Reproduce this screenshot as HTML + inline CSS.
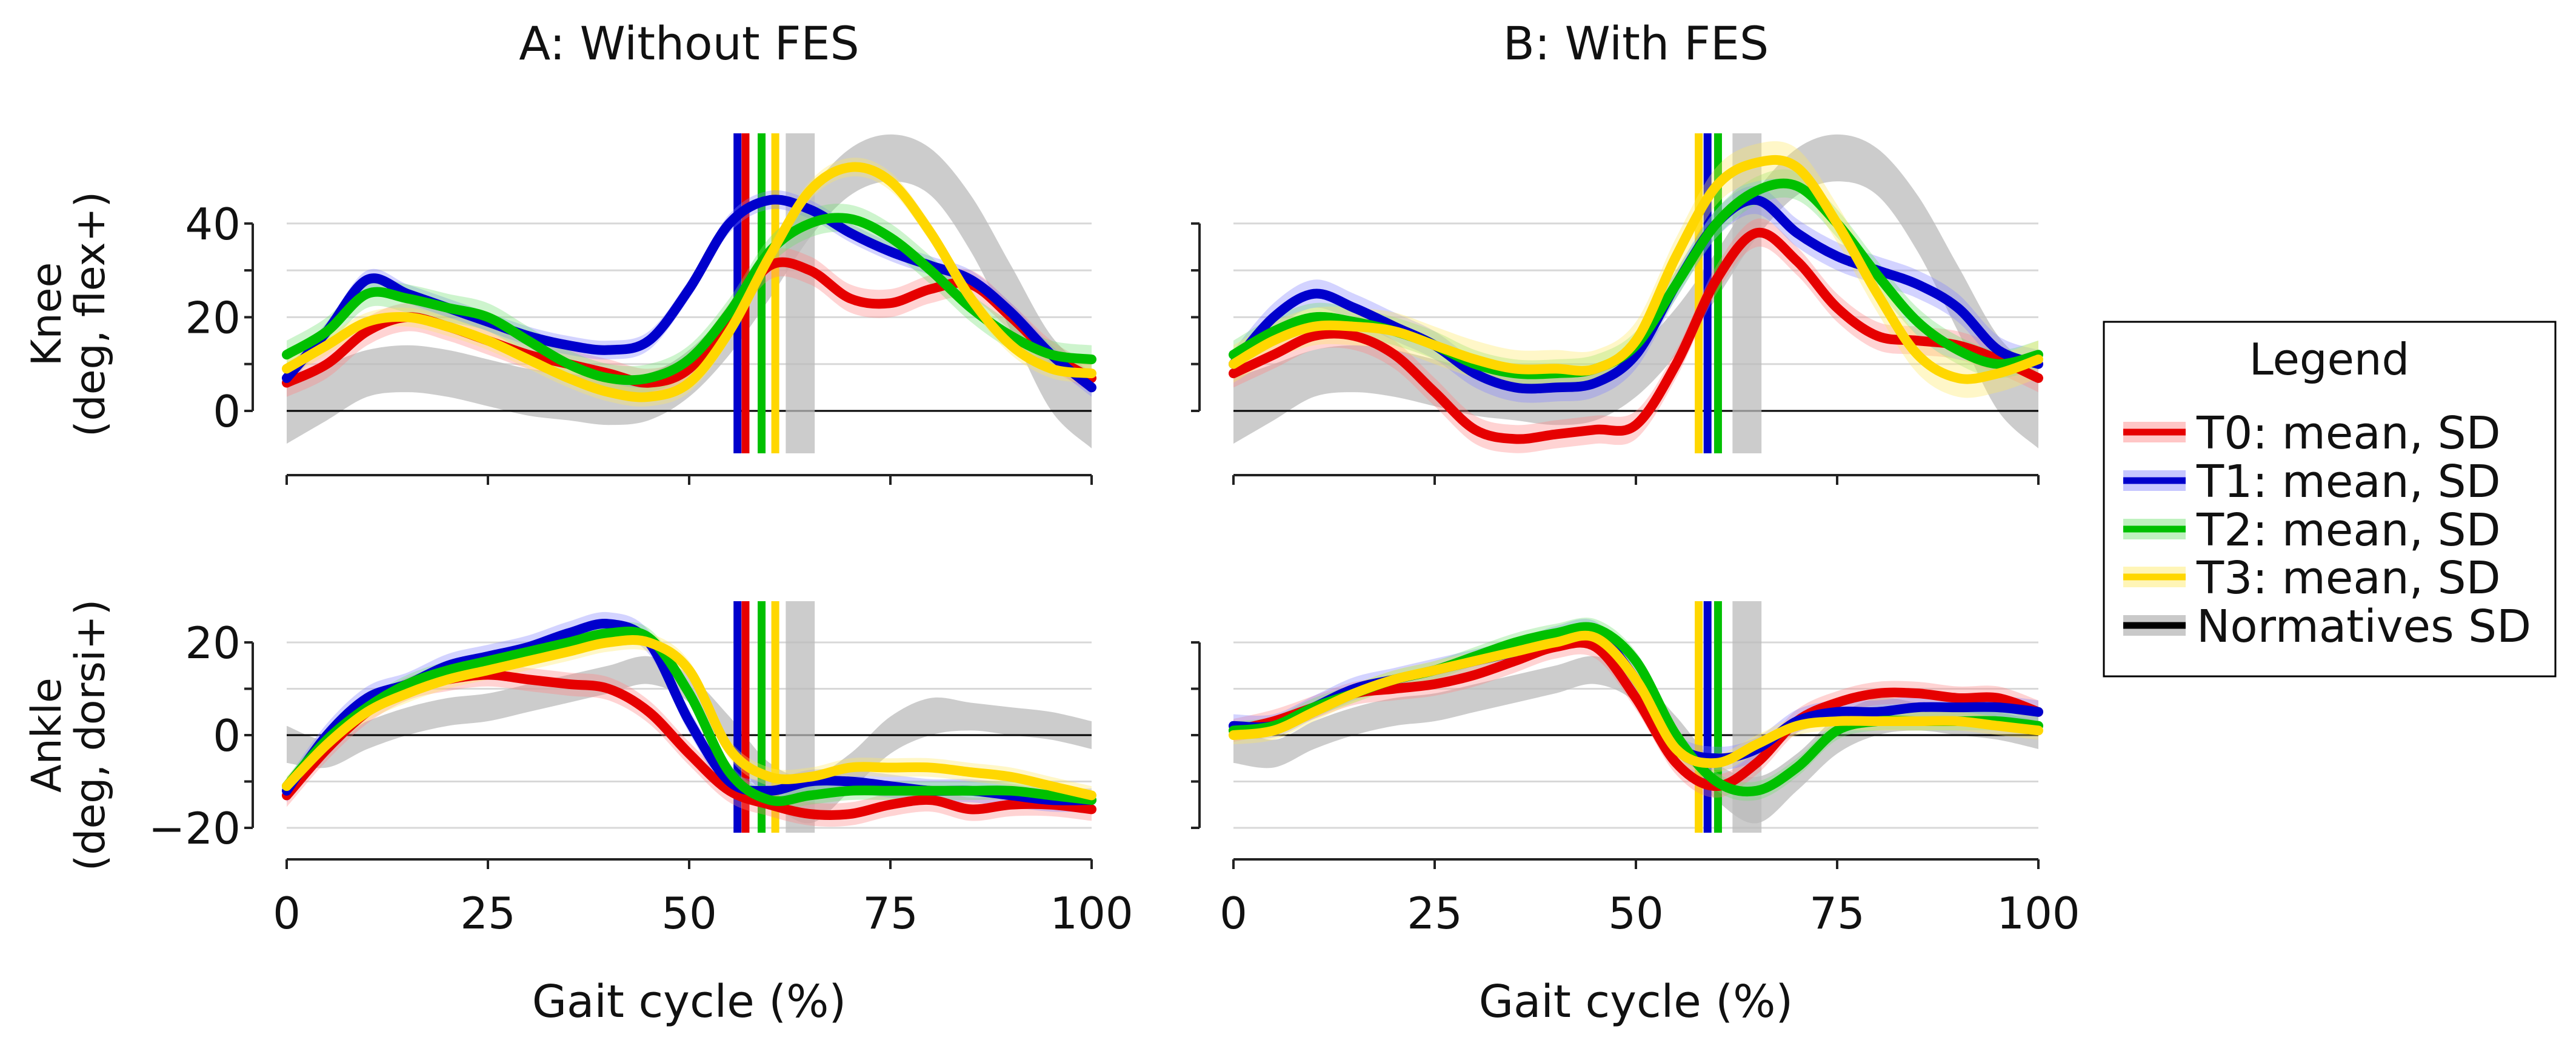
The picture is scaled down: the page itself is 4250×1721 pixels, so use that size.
<!DOCTYPE html>
<html><head><meta charset="utf-8"><style>
html,body{margin:0;padding:0;background:#fff}
svg{display:block}
text{font-family:"DejaVu Sans","Liberation Sans",sans-serif;fill:#111}
</style></head><body>
<svg id="chart" width="4250" height="1721" viewBox="0 0 4250 1721" xmlns="http://www.w3.org/2000/svg">
<g id="root"></g>
<g>
<rect x="3471" y="531" width="745" height="585" fill="#fff" stroke="#000" stroke-width="3"/>
<text x="3843" y="618" font-size="72" text-anchor="middle">Legend</text>
</g>
</svg>
<script>
const xs=[0,5,10,15,20,25,30,35,40,45,50,55,60,65,70,75,80,85,90,95,100];
const seriesNames=["T0","T1","T2","T3"];
const colors=["#e60000","#0000cc","#00c000","#ffd700"];
const bandColors=["#ff8080","#8080ff","#70e070","#ffe860"];
const xTicks=[0,25,50,75,100];
const kneeTicks=[0,20,40];
const ankleTicks=[-20,0,20];
// normatives
const kneeNormMean=[0,4,8,9,8,6,4,3,2,3,8,17,29,42,51,54,51,40,24,8,0];
const kneeNormSD=[7,6,5,5,5,5,5,5,5,5,5,5,5,5,5,5,5,6,7,8,8];
const ankleNormMean=[-2,-4,0,3,5,6,8,10,12,14,10,0,-10,-14,-8,0,4,4,3,2,0];
const ankleNormSD=[4,3,3,3,3,3,3,3,3,3,3,4,4,5,4,4,4,3,3,3,3];
// Panel A knee
const kneeA_T0=[6,10,17,20,18,15,12,10,8,6,9,20,31,30,24,23,26,27,20,12,7];
const kneeA_T1=[7,17,28,25,22,19,16,14,13,15,26,40,45,43,38,34,31,28,21,12,5];
const kneeA_T2=[12,17,25,24,22,20,15,10,7,7,11,21,34,40,41,37,30,22,16,12,11];
const kneeA_T3=[9,14,19,20,18,15,11,7,4,3,6,17,33,47,52,49,38,24,14,9,8];
// Panel B knee
const kneeB_T0=[8,12,16,16,12,4,-4,-6,-5,-4,-3,10,28,38,32,22,16,15,14,11,7];
const kneeB_T1=[10,20,25,22,18,14,8,5,5,6,12,27,40,45,38,33,30,27,22,13,10];
const kneeB_T2=[12,17,20,19,17,14,10,8,8,9,14,27,40,47,48,40,29,19,13,10,12];
const kneeB_T3=[10,15,18,18,17,14,11,9,9,9,15,33,48,53,52,40,25,12,7,8,11];
// Panel A ankle
const ankleA_T0=[-13,-3,5,10,12,13,12,11,10,5,-4,-12,-15,-17,-17,-15,-14,-16,-15,-15,-16];
const ankleA_T1=[-12,0,8,11,15,17,19,22,24,20,3,-10,-12,-10,-10,-11,-12,-12,-13,-14,-14];
const ankleA_T2=[-11,-1,6,11,14,16,18,20,22,21,9,-8,-14,-13,-12,-12,-12,-12,-12,-13,-14];
const ankleA_T3=[-11,-2,5,9,12,14,16,18,20,20,14,-3,-9,-9,-7,-7,-7,-8,-9,-11,-13];
// Panel B ankle
const ankleB_T0=[1,3,6,9,10,11,13,16,19,19,8,-6,-11,-6,3,7,9,9,8,8,5];
const ankleB_T1=[2,2,6,10,12,14,16,18,21,22,12,-2,-5,-3,3,5,5,6,6,6,5];
const ankleB_T2=[1,2,6,9,12,14,17,20,22,23,16,0,-10,-12,-7,1,3,3,3,3,2];
const ankleB_T3=[0,1,5,9,12,14,16,18,20,21,12,-3,-6,-2,2,3,3,3,3,2,1];
const sdKneeA=[3,2,3,2];
const sdKneeB=[3,3,3,4];
const sdAnkle=[2.5,2.5,2,2];
// toe-off events (% gait cycle)
const eventsA=[57,56,59,60.7];
const eventsB=[57.8,58.9,60.2,57.8];
const normEvent=[62,65.6];

const NS="http://www.w3.org/2000/svg";
const root=document.getElementById('root');
function el(tag,attrs,parent){const e=document.createElementNS(NS,tag);for(const k in attrs)e.setAttribute(k,attrs[k]);(parent||root).appendChild(e);return e;}
function smooth(pts){let d="M"+pts[0][0]+","+pts[0][1];for(let i=0;i<pts.length-1;i++){const p0=pts[i-1]||pts[i],p1=pts[i],p2=pts[i+1],p3=pts[i+2]||p2;
 d+=" C"+(p1[0]+(p2[0]-p0[0])/6)+","+(p1[1]+(p2[1]-p0[1])/6)+" "+(p2[0]-(p3[0]-p1[0])/6)+","+(p2[1]-(p3[1]-p1[1])/6)+" "+p2[0]+","+p2[1];}return d;}
function smoothCont(pts){return smooth(pts).replace(/^M/,"L");}

const panels=[
 {key:"A",x0:473,title:"A: Without FES",labels:true,
  knee:[kneeA_T0,kneeA_T1,kneeA_T2,kneeA_T3],ankle:[ankleA_T0,ankleA_T1,ankleA_T2,ankleA_T3],sdK:sdKneeA,ev:eventsA},
 {key:"B",x0:2035,title:"B: With FES",labels:false,
  knee:[kneeB_T0,kneeB_T1,kneeB_T2,kneeB_T3],ankle:[ankleB_T0,ankleB_T1,ankleB_T2,ankleB_T3],sdK:sdKneeB,ev:eventsB}
];
const W=1328;
const rows=[
 {key:"knee",zeroY:678,scale:7.73,axisY:784,top:220,bot:748,grid:[10,20,30,40],ticks:kneeTicks,minor:[10,30],norm:[kneeNormMean,kneeNormSD],label:["Knee","(deg, flex+)"]},
 {key:"ankle",zeroY:1213,scale:7.65,axisY:1418,top:992,bot:1374,grid:[-20,-10,10,20],ticks:ankleTicks,minor:[-10,10],norm:[ankleNormMean,ankleNormSD],label:["Ankle","(deg, dorsi+)"]}
];

panels.forEach(p=>{
 const X=v=>p.x0+v/100*W;
 const t=el('text',{x:X(50),y:98,'font-size':76,'text-anchor':'middle'});t.textContent=p.title;
 
 
 const xl=el('text',{x:X(50),y:1678,'font-size':74,'text-anchor':'middle'});xl.textContent="Gait cycle (%)";
 
 
 rows.forEach(r=>{
  const Y=v=>r.zeroY-v*r.scale;
  const g=el('g',{});
  
  
  r.grid.forEach(v=>{el('line',{x1:X(0),x2:X(100),y1:Y(v),y2:Y(v),stroke:'#d8d8d8','stroke-width':3},g);});
  const nm=r.norm[0],ns=r.norm[1];
  const up=xs.map((x,i)=>[X(x),Y(nm[i]+ns[i])]),lo=xs.map((x,i)=>[X(x),Y(nm[i]-ns[i])]).reverse();
  const nb=el('path',{d:smooth(up)+" "+smoothCont(lo)+"Z",fill:'#bbbbbb','fill-opacity':0.75},g);
  
  
  el('line',{x1:X(0),x2:X(100),y1:Y(0),y2:Y(0),stroke:'#000','stroke-width':3},g);
  const nr=el('rect',{x:X(normEvent[0]),y:r.top,width:X(normEvent[1])-X(normEvent[0]),height:r.bot-r.top,fill:'#bbbbbb','fill-opacity':0.75},g);
  
  
  const order=p.key==="A"?[1,0,2,3]:[3,1,2,0];
  order.forEach(i=>{if(p.key==="B"&&i===0)return;
   const l=el('line',{x1:X(p.ev[i]),x2:X(p.ev[i]),y1:r.top,y2:r.bot,stroke:colors[i],'stroke-width':13},g);
   
   });
  const data=p[r.key];const sds=r.key==="knee"?p.sdK:sdAnkle;
  data.forEach((s,i)=>{
   const u=xs.map((x,j)=>[X(x),Y(s[j]+sds[i])]),d=xs.map((x,j)=>[X(x),Y(s[j]-sds[i])]).reverse();
   const b=el('path',{d:smooth(u)+" "+smoothCont(d)+"Z",fill:bandColors[i],'fill-opacity':0.35},g);
   
   
  });
  data.forEach((s,i)=>{
   const m=el('path',{d:smooth(xs.map((x,j)=>[X(x),Y(s[j])])),fill:'none',stroke:colors[i],'stroke-width':16,'stroke-linecap':'round'},g);
   
   
  });
  el('line',{x1:X(0),x2:X(100),y1:r.axisY,y2:r.axisY,stroke:'#222','stroke-width':4},g);
  xTicks.forEach(v=>{el('line',{x1:X(v),x2:X(v),y1:r.axisY,y2:r.axisY+16,stroke:'#222','stroke-width':4},g);
   if(r.key==="ankle"){const tl=el('text',{x:X(v),y:1532,'font-size':72,'text-anchor':'middle'});tl.textContent=v;
    
    }});
  const sx=p.x0-56;
  const lo2=r.ticks[0],hi2=r.ticks[r.ticks.length-1];
  el('line',{x1:sx,x2:sx,y1:Y(lo2),y2:Y(hi2),stroke:'#222','stroke-width':4},g);
  r.ticks.concat(r.minor).forEach(v=>{el('line',{x1:sx-14,x2:sx,y1:Y(v),y2:Y(v),stroke:'#222','stroke-width':4},g);});
  if(p.labels){
   r.ticks.forEach(v=>{const tl=el('text',{x:sx-20,y:Y(v)+26,'font-size':72,'text-anchor':'end'});tl.textContent=(v<0?"\u2212"+(-v):v);
    
    });
   const cy=(Y(lo2)+Y(hi2))/2+(r.key==="knee"?-5:0);
   const yl=el('text',{transform:`translate(0,${cy}) rotate(-90)`,'font-size':68,'text-anchor':'middle'});
   
   
   const t1=el('tspan',{x:0,y:100},yl);t1.textContent=r.label[0];
   const t2=el('tspan',{x:0,y:172},yl);t2.textContent=r.label[1];
  }
 });
});
const legendLabels=["T0: mean, SD","T1: mean, SD","T2: mean, SD","T3: mean, SD","Normatives SD"];
const legendY=[713,793,873,952,1032];
const svg=document.getElementById('chart');
legendLabels.forEach((lab,i)=>{
 const g=el('g',{},svg);
 
 
 el('rect',{x:3503,y:legendY[i]-17,width:103,height:34,fill:i<4?bandColors[i]:'#bbbbbb','fill-opacity':i<4?0.45:0.8},g);
 el('line',{x1:3503,x2:3606,y1:legendY[i],y2:legendY[i],stroke:i<4?colors[i]:'#000','stroke-width':11},g);
 const t=el('text',{x:3624,y:legendY[i]+27,'font-size':74},g);t.textContent=lab;
});
</script>
</body></html>
